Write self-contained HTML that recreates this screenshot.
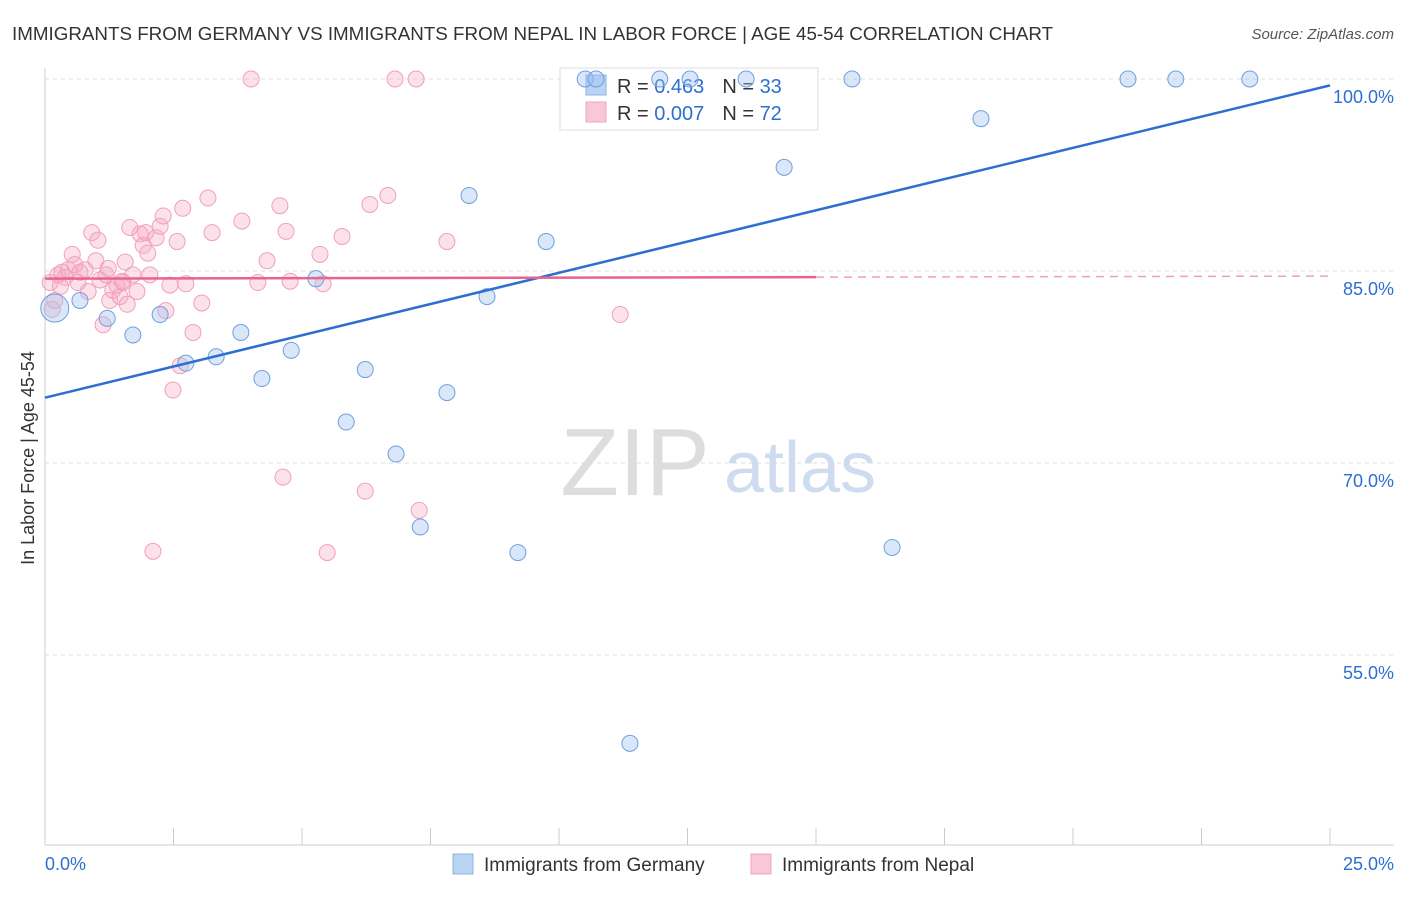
<!DOCTYPE html>
<html><head><meta charset="utf-8">
<style>
body{margin:0;background:#fff;font-family:"Liberation Sans",sans-serif;}
svg text{font-family:"Liberation Sans",sans-serif;}
</style></head>
<body>
<svg id="chart" width="1406" height="892" viewBox="0 0 1406 892" xmlns="http://www.w3.org/2000/svg">
<text x="12" y="40" font-size="18.8" fill="#333">IMMIGRANTS FROM GERMANY VS IMMIGRANTS FROM NEPAL IN LABOR FORCE | AGE 45-54 CORRELATION CHART</text>
<text x="1394" y="39" font-size="15" fill="#555" font-style="italic" text-anchor="end">Source: ZipAtlas.com</text>
<text x="34" y="458" font-size="18" fill="#333" text-anchor="middle" transform="rotate(-90 34 458)">In Labor Force | Age 45-54</text>
<g id="grid"></g>
<g id="ticks"></g>
<text x="635" y="495" font-size="96" fill="#ddd" font-family="Liberation Serif" text-anchor="middle">ZIP</text>
<text x="800" y="492" font-size="72" fill="#cfdcef" text-anchor="middle">atlas</text>
<g>
<rect x="560" y="68" width="258" height="62" fill="#fff" stroke="#ddd"/>
<rect x="586" y="75" width="20" height="20" fill="#b9d3f3" stroke="#8fb3e6"/>
<rect x="586" y="102" width="20" height="20" fill="#f9c8d7" stroke="#f0a6bd"/>
<text x="617" y="93" font-size="20" fill="#333">R = <tspan fill="#2d6fd1">0.463</tspan><tspan dx="18">N = </tspan><tspan fill="#2d6fd1">33</tspan></text>
<text x="617" y="120" font-size="20" fill="#333">R = <tspan fill="#2d6fd1">0.007</tspan><tspan dx="18">N = </tspan><tspan fill="#2d6fd1">72</tspan></text>
</g>
<g id="pink"></g>
<g id="blue"></g>
<g id="lines"></g>
<g>
<rect x="453" y="854" width="20" height="20" fill="#b9d3f3" stroke="#8fb3e6"/>
<text x="484" y="871" font-size="19" fill="#333">Immigrants from Germany</text>
<rect x="751" y="854" width="20" height="20" fill="#f9c8d7" stroke="#f0a6bd"/>
<text x="782" y="871" font-size="19" fill="#333">Immigrants from Nepal</text>
</g>
<text x="45" y="870" font-size="18" fill="#2d6fd1">0.0%</text>
<text x="1394" y="870" font-size="18" fill="#2d6fd1" text-anchor="end">25.0%</text>
</svg>
<script>
const yTicks=[100,85,70,55];
const yTickLabels=["100.0%","85.0%","70.0%","55.0%"];
const germanyX=[0.19,0.68,1.21,1.71,2.24,2.74,3.33,3.81,4.22,4.79,5.27,5.86,6.23,6.83,7.30,7.82,8.25,8.60,9.20,9.75,11.38,14.38,15.70,16.48,18.21,21.07,22.00,23.44,10.51,10.72,11.96,12.55,13.64];
const germanyY=[82.1,82.7,81.3,80.0,81.6,77.8,78.3,80.2,76.6,78.8,84.4,73.2,77.3,70.7,65.0,75.5,90.9,83.0,63.0,87.3,48.1,93.1,100,63.4,96.9,100,100,100,100,100,100,100,100];
const nepalX=[0.10,0.14,0.19,0.25,0.33,0.39,0.45,0.53,0.58,0.64,0.68,0.78,0.84,0.91,0.99,1.03,1.07,1.13,1.19,1.23,1.26,1.32,1.40,1.46,1.52,1.56,1.60,1.65,1.71,1.79,1.85,1.91,1.96,2.00,2.04,2.10,2.16,2.24,2.30,2.35,2.43,2.49,2.57,2.63,2.68,2.74,2.88,3.05,3.17,3.25,3.83,4.01,4.14,4.32,4.57,4.63,4.69,4.77,5.35,5.41,5.49,5.78,6.23,6.32,6.67,6.81,7.22,7.28,7.82,11.19,0.30,1.50];
const nepalY=[84.1,82.0,82.7,84.7,84.9,84.5,85.1,86.3,85.5,84.1,84.9,85.1,83.4,88.0,85.8,87.4,84.3,80.8,84.7,85.2,82.7,83.5,83.9,83.0,84.1,85.7,82.4,88.4,84.7,83.4,87.9,87.0,88.0,86.4,84.7,63.1,87.6,88.5,89.3,81.9,83.9,75.7,87.3,77.6,89.9,84.0,80.2,82.5,90.7,88.0,88.9,100,84.1,85.8,90.1,68.9,88.1,84.2,86.3,84.0,63.0,87.7,67.8,90.2,90.9,100,100,66.3,87.3,81.6,83.8,84.2];
const germanyTrend=[75.1,99.5];
const nepalTrend=[84.4,84.6];
const NS="http://www.w3.org/2000/svg";
const xs=v=>45+v/25*1285;
const ys=v=>79+(100-v)*12.8;
function mk(tag,attrs,parent){const e=document.createElementNS(NS,tag);for(const k in attrs)e.setAttribute(k,attrs[k]);parent.appendChild(e);return e;}
const grid=document.getElementById('grid'),ticks=document.getElementById('ticks');
yTicks.forEach((t,i)=>{
 const l=mk('line',{x1:45,x2:1394,y1:ys(t),y2:ys(t),stroke:'#ddd','stroke-dasharray':'4,4'},grid);
 
 
 const tx=mk('text',{x:1394,y:ys(t)+24,'font-size':18,fill:'#2d6fd1','text-anchor':'end'},ticks);
 tx.textContent=yTickLabels[i];
 
 
});
mk('line',{x1:45,x2:45,y1:68,y2:845,stroke:'#ccc'},grid);
mk('line',{x1:45,x2:1394,y1:845,y2:845,stroke:'#ccc'},grid);
for(let i=0;i<=10;i++){const x=xs(i*2.5);const t=mk('line',{x1:x,x2:x,y1:828,y2:845,stroke:'#ccc'},ticks);
 
 }
const pg=document.getElementById('pink');
nepalX.forEach((x,i)=>{const c=mk('circle',{cx:xs(x),cy:ys(nepalY[i]),r:8,fill:'rgba(246,170,195,0.35)',stroke:'#f0a0ba','stroke-width':1},pg);
 
 });
const bg=document.getElementById('blue');
germanyX.forEach((x,i)=>{const c=mk('circle',{cx:xs(x),cy:ys(germanyY[i]),r:i===0?14:8,fill:'rgba(160,195,240,0.4)',stroke:'#6f9fe0','stroke-width':1},bg);
 
 });
const lg=document.getElementById('lines');
const bl=mk('line',{x1:xs(0),y1:ys(germanyTrend[0]),x2:xs(25),y2:ys(germanyTrend[1]),stroke:'#2d6fd1','stroke-width':2.5},lg);


const py=v=>nepalTrend[0]+(nepalTrend[1]-nepalTrend[0])*v/25;
const pl=mk('line',{x1:xs(0),y1:ys(py(0)),x2:xs(15),y2:ys(py(15)),stroke:'#e8648e','stroke-width':2.5},lg);


const pd=mk('line',{x1:xs(15),y1:ys(py(15)),x2:xs(25),y2:ys(py(25)),stroke:'#f0a0ba','stroke-width':1.5,'stroke-dasharray':'8,6'},lg);


</script>
</body></html>
